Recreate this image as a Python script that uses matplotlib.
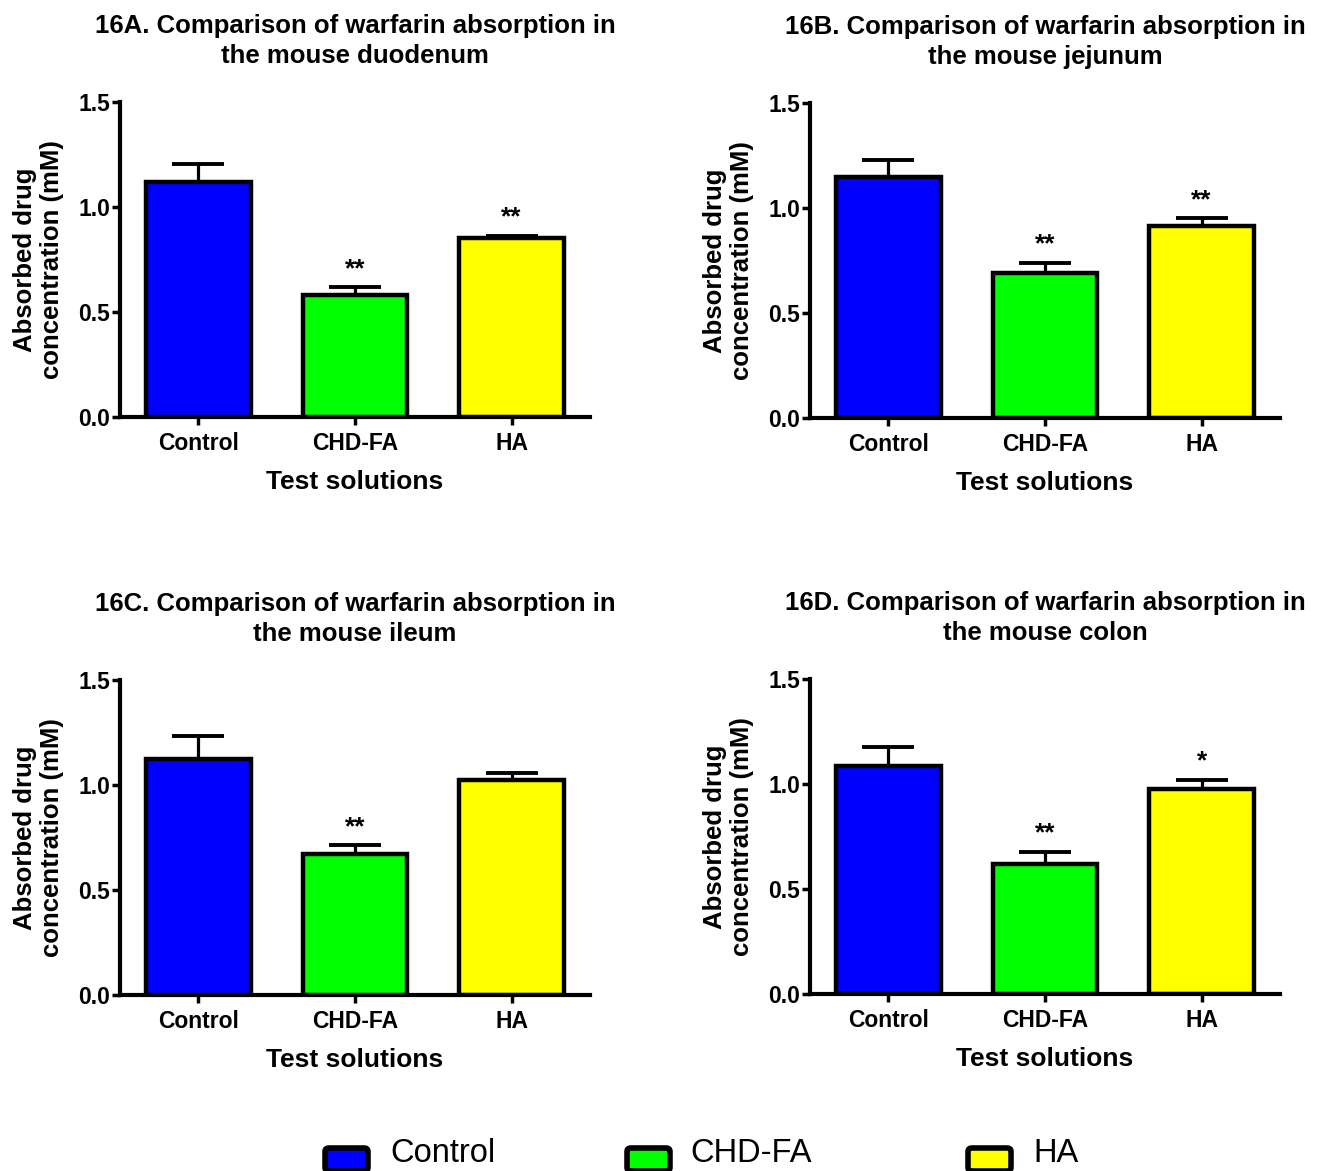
import matplotlib
matplotlib.use("Agg")
import matplotlib.pyplot as plt
from matplotlib.patches import FancyBboxPatch

plt.rcParams['font.family'] = ['Liberation Sans', 'DejaVu Sans']

groups = ["Control", "CHD-FA", "HA"]
colors = ["#0000ff", "#00ff00", "#ffff00"]

titles = [
    "16A. Comparison of warfarin absorption in\nthe mouse duodenum",
    "16B. Comparison of warfarin absorption in\nthe mouse jejunum",
    "16C. Comparison of warfarin absorption in\nthe mouse ileum",
    "16D. Comparison of warfarin absorption in\nthe mouse colon",
]

duodenum_mean = [1.12, 0.58, 0.85]
duodenum_sem = [0.085, 0.038, 0.014]
duodenum_sig = ["", "**", "**"]

jejunum_mean = [1.15, 0.69, 0.915]
jejunum_sem = [0.08, 0.048, 0.036]
jejunum_sig = ["", "**", "**"]

ileum_mean = [1.125, 0.67, 1.025]
ileum_sem = [0.108, 0.043, 0.032]
ileum_sig = ["", "**", ""]

colon_mean = [1.085, 0.62, 0.978]
colon_sem = [0.093, 0.057, 0.041]
colon_sig = ["", "**", "*"]

panels = [
    (duodenum_mean, duodenum_sem, duodenum_sig),
    (jejunum_mean, jejunum_sem, jejunum_sig),
    (ileum_mean, ileum_sem, ileum_sig),
    (colon_mean, colon_sem, colon_sig),
]

W, H = 1322, 1171
fig = plt.figure(figsize=(W / 100, H / 100), dpi=100)

# axes rectangles in pixel coordinates: left, top, right, bottom
rects = [
    (120, 102, 590, 417),
    (810, 103, 1280, 418),
    (120, 680, 590, 995),
    (810, 679, 1280, 994),
]

for (mean, sem, sig), title, (l, t, r, b) in zip(panels, titles, rects):
    ax = fig.add_axes([l / W, 1 - b / H, (r - l) / W, (b - t) / H])
    x = list(range(len(groups)))
    ax.bar(x, mean, width=0.67, color=colors, edgecolor="black",
           linewidth=3.2, zorder=2)
    ax.errorbar(x, mean, yerr=[[0] * len(sem), sem], fmt="none",
                ecolor="black", elinewidth=2.3, capsize=19, capthick=2.8,
                zorder=1)
    for xi, m, s, lab in zip(x, mean, sem, sig):
        if lab:
            ax.annotate(lab, (xi, m + s), xytext=(0, 4.5),
                        textcoords="offset points", ha="center",
                        va="bottom", fontsize=19, fontweight="bold")
    ax.set_xlim(-0.5, 2.5)
    ax.set_ylim(0, 1.5)
    ax.set_yticks([0.0, 0.5, 1.0, 1.5])
    ax.set_yticklabels(["0.0", "0.5", "1.0", "1.5"])
    ax.set_xticks(x)
    ax.set_xticklabels(groups)
    for side in ("top", "right"):
        ax.spines[side].set_visible(False)
    for side in ("left", "bottom"):
        ax.spines[side].set_linewidth(3)
    ax.tick_params(axis="both", direction="out", length=6, width=2.5,
                   labelsize=16.5)
    ax.tick_params(axis="y", pad=1)
    ax.tick_params(axis="x", pad=5)
    for lbl in ax.get_xticklabels() + ax.get_yticklabels():
        lbl.set_fontweight("bold")
    ax.set_ylabel("Absorbed drug\nconcentration (mM)", fontsize=18.5,
                  fontweight="bold", labelpad=10.5, linespacing=1.15)
    ax.set_xlabel("Test solutions", fontsize=19, fontweight="bold",
                  labelpad=10.5)
    ax.set_title(title, fontsize=18.5, fontweight="bold", pad=28,
                 linespacing=1.3)

# legend row along the bottom edge
legend_items = [
    (325, 390, "Control"),
    (627, 690, "CHD-FA"),
    (968, 1033, "HA"),
]
for (px, tx, label), c in zip(legend_items, colors):
    box = FancyBboxPatch((px / W, 1 - 1171 / H), 43 / W, 23 / H,
                         boxstyle="round,pad=0,rounding_size=0.003",
                         transform=fig.transFigure, facecolor=c,
                         edgecolor="black", linewidth=4, clip_on=False)
    fig.add_artist(box)
    fig.text(tx / W, 1 - 1162 / H, label, ha="left", va="baseline",
             fontsize=23.5,
             family=["Liberation Sans Narrow", "Liberation Sans"])

fig.savefig("out.png", dpi=100)
